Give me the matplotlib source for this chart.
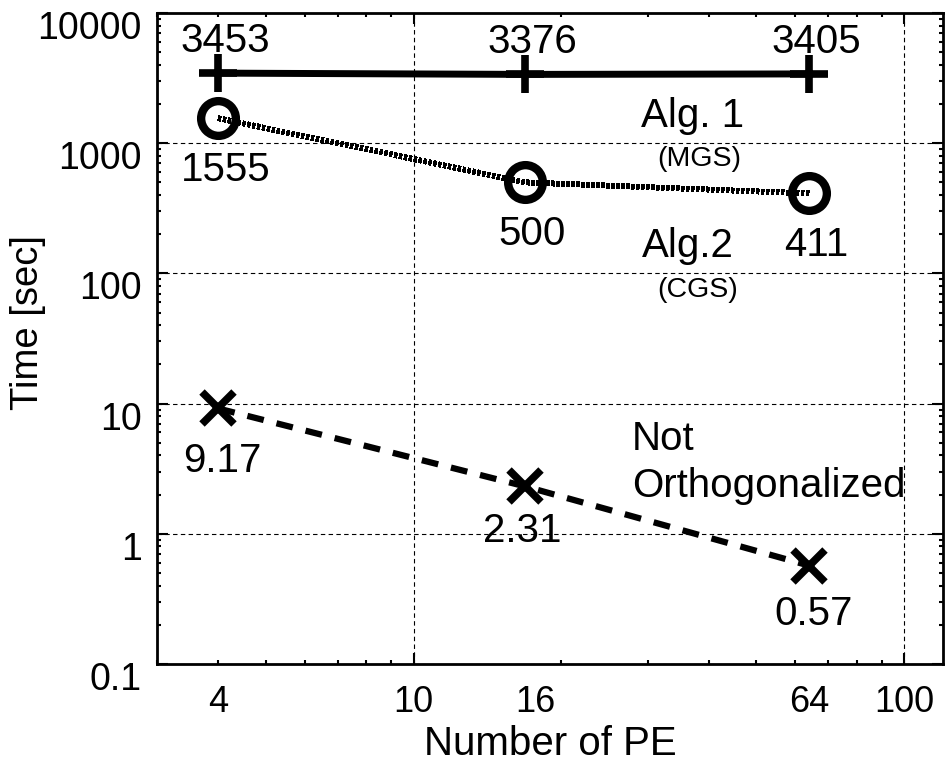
import numpy as np
import matplotlib
matplotlib.use('Agg')
import matplotlib.pyplot as plt
import matplotlib.transforms as mtransforms
from matplotlib.ticker import FixedLocator, LogLocator, NullFormatter

# data
pe = [4, 16.9, 64]            # middle point sits slightly right of 16 in the original
pe_labels = ['4', '16', '64']
pe_label_pos = [4, 17.7, 64]
alg1 = [3453, 3376, 3405]     # Alg. 1 (MGS)
alg2 = [1555, 500, 411]       # Alg. 2 (CGS)
not_orth = [9.17, 2.31, 0.57]  # Not Orthogonalized

alg1_txt = ['3453', '3376', '3405']
alg2_txt = ['1555', '500', '411']
not_orth_txt = ['9.17', '2.31', '0.57']

plt.rcParams['font.family'] = ['Liberation Sans', 'DejaVu Sans']

fig = plt.figure(figsize=(9.47, 7.62), dpi=100)
ax = fig.add_axes([157/947, 1 - 664/762, (943 - 157)/947, (664 - 13)/762])
ax.set_xscale('log')
ax.set_yscale('log')
ax.set_xlim(3, 120)
ax.set_ylim(0.1, 10000)

# lines
ax.plot(pe, alg1, color='black', lw=5, marker='+', ms=28, mew=5.5)
l2, = ax.plot(pe, alg2, color='black', lw=3.8, dashes=(0.4, 0.4))
l2.set_antialiased(False)
ax.plot(pe, alg2, ls='none', marker='o', ms=25, mew=6, mfc='none', mec='black')
ax.plot(pe, not_orth, color='black', lw=4.5, dashes=(2.7, 2.1),
        marker='x', ms=23, mew=5.5)

# value labels
fs = 29
for x, y, t in zip(pe, alg1, alg1_txt):
    ax.annotate(t, (x, y), xytext=(5, 23), textcoords='offset points',
                ha='center', va='center', fontsize=fs)
for x, y, t in zip(pe, alg2, alg2_txt):
    ax.annotate(t, (x, y), xytext=(5, -37), textcoords='offset points',
                ha='center', va='center', fontsize=fs)
off = [(3, -38), (-2, -32), (3, -35)]
for (x, y, t), o in zip(zip(pe, not_orth, not_orth_txt), off):
    ax.annotate(t, (x, y), xytext=o, textcoords='offset points',
                ha='center', va='center', fontsize=fs)

# series names
ax.text(0.682, (664 - 127)/651, 'Alg. 1', transform=ax.transAxes, ha='center',
        va='baseline', fontsize=fs)
ax.text(0.690, (664 - 159)/651, '(MGS)', transform=ax.transAxes, ha='center',
        va='center', fontsize=20.5)
ax.text(0.676, (664 - 257)/651, 'Alg.2', transform=ax.transAxes, ha='center',
        va='baseline', fontsize=fs)
ax.text(0.688, (664 - 290)/651, '(CGS)', transform=ax.transAxes, ha='center',
        va='center', fontsize=20.5)
ax.text(0.604, (664 - 450)/651, 'Not', transform=ax.transAxes, ha='left',
        va='baseline', fontsize=fs)
ax.text(0.604, (664 - 497)/651, 'Orthogonalized', transform=ax.transAxes, ha='left',
        va='baseline', fontsize=fs)

# x ticks: decades carry grid, PE counts are plain labels
ax.xaxis.set_major_locator(FixedLocator([10, 100]))
ax.set_xticklabels(['10', '100'])
ax.xaxis.set_minor_locator(LogLocator(base=10, subs=np.arange(2, 10)))
ax.xaxis.set_minor_formatter(NullFormatter())
for x, t in zip(pe_label_pos, pe_labels):
    ax.text(x, (664 - 703)/651, t, transform=ax.get_xaxis_transform(),
            ha='center', va='center', fontsize=26)

ax.yaxis.set_major_locator(FixedLocator([0.1, 1, 10, 100, 1000, 10000]))
ax.set_yticklabels(['0.1', '1', '10', '100', '1000', '10000'])
ax.yaxis.set_minor_locator(LogLocator(base=10, subs=np.arange(2, 10)))
ax.yaxis.set_minor_formatter(NullFormatter())

ax.tick_params(which='both', direction='in', top=True, right=True, width=1.5)
ax.tick_params(which='major', length=8)
ax.tick_params(which='minor', length=3)
ax.tick_params(axis='x', labelsize=26, pad=15)
ax.tick_params(axis='y', labelsize=27, pad=11)

ax.grid(True, which='major', color='black', lw=0.8, ls=(0, (4, 3)))
for s in ax.spines.values():
    s.set_linewidth(2)

ax.set_xlabel('Number of PE', fontsize=29, labelpad=4)
ax.set_ylabel('Time [sec]', fontsize=27.5, va='center')
ax.yaxis.set_label_coords((28 - 157)/786, (664 - 323)/651)

# y tick labels sit a little below their ticks in the original
shift = mtransforms.ScaledTranslation(0, -12/100, fig.dpi_scale_trans)
for lab in ax.get_yticklabels():
    lab.set_transform(lab.get_transform() + shift)

fig.savefig('out.png', dpi=100)
